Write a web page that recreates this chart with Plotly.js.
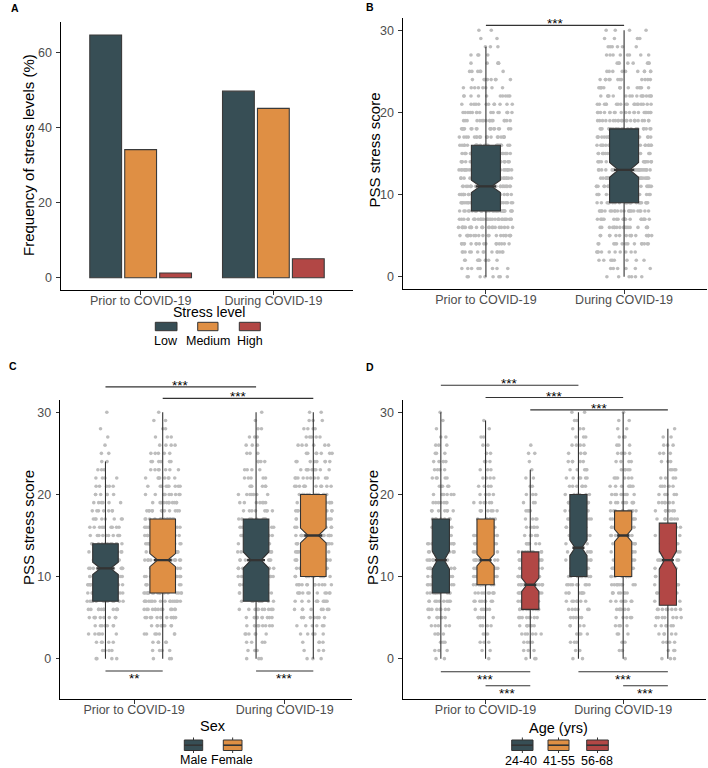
<!DOCTYPE html>
<html><head><meta charset="utf-8">
<script src="https://cdn.plot.ly/plotly-3.0.1.min.js"></script>
<style>html,body{margin:0;padding:0;background:#fff}#chart{width:708px;height:768px}</style>
</head><body><div id="chart"></div>
<script>
// ---------------- DATA ----------------
const periods = ['Prior to COVID-19', 'During COVID-19'];
const scores = [0,1,2,3,4,5,6,7,8,9,10,11,12,13,14,15,16,17,18,19,20,21,22,23,24,25,26,27,28,29,30];

// Panel A: frequency of stress levels (%)
const stressLevels = ['Low', 'Medium', 'High'];
const freqLow = [64.8, 49.8];
const freqMedium = [34.2, 45.2];
const freqHigh = [1.3, 5.1];

// Panel B: PSS score box statistics (Prior, During)
const bQ1 = [8, 9];
const bMedian = [11, 13];
const bQ3 = [16, 18];
const bLower = [0, 0];
const bUpper = [28, 30];
const bNotch = [0.75, 0.9];
// counts of respondents per PSS score 0..30
const bCountsPrior  = [8,8,10,14,16,20,24,30,32,32,34,34,30,30,26,24,22,20,18,16,16,12,10,8,8,6,5,4,3,2,2];
const bCountsDuring = [6,6,8,10,14,16,18,20,22,24,26,26,28,28,28,26,26,24,22,22,20,18,16,14,12,10,8,8,6,4,4];

// Panel C: by sex (Prior, During)
const sexGroups = ['Male', 'Female'];
const cMaleQ1 = [7, 7],   cMaleMedian = [11, 12],   cMaleQ3 = [14, 17],   cMaleLower = [0, 0],   cMaleUpper = [24, 30],   cMaleNotch = [0.75, 1.0];
const cFemaleQ1 = [8, 10], cFemaleMedian = [12, 15], cFemaleQ3 = [17, 20], cFemaleLower = [0, 0], cFemaleUpper = [30, 30], cFemaleNotch = [0.8, 0.9];
const cCountsMalePrior    = [4,4,5,6,8,9,11,13,14,15,15,15,14,13,12,10,9,8,7,6,6,5,4,3,2,2,1,1,1,0,1];
const cCountsMaleDuring   = [3,3,4,6,8,9,10,11,11,11,12,12,12,11,11,10,10,9,8,7,7,6,5,4,4,3,3,3,2,1,1];
const cCountsFemalePrior  = [3,4,5,7,9,11,13,16,17,18,18,18,18,17,16,15,14,13,12,11,10,9,8,7,6,5,4,3,2,2,1];
const cCountsFemaleDuring = [3,3,4,5,6,7,8,10,11,12,13,14,14,15,15,15,15,14,14,13,12,11,10,9,8,7,6,5,4,3,2];

// Panel D: by age (Prior, During)
const ageGroups = ['24-40', '41-55', '56-68'];
const dA1Q1 = [8, 10],  dA1Median = [12, 13.5], dA1Q3 = [17, 20],   dA1Lower = [0, 0], dA1Upper = [30, 30], dA1Notch = [1.1, 0.95];
const dA2Q1 = [9, 10],  dA2Median = [12, 15],   dA2Q3 = [17, 18],   dA2Lower = [0, 0], dA2Upper = [29, 30], dA2Notch = [0.7, 0.75];
const dA3Q1 = [6, 6.5], dA3Median = [9, 12],    dA3Q3 = [13, 16.5], dA3Lower = [0, 0], dA3Upper = [23, 28], dA3Notch = [0.8, 1.1];
const dCountsA1Prior  = [2,3,3,4,5,6,8,9,10,10,11,11,11,10,10,9,9,8,7,7,6,5,5,4,4,3,3,2,1,1,1];
const dCountsA1During = [2,2,3,4,4,5,6,7,8,9,9,9,9,9,9,8,8,8,8,7,7,6,6,5,5,4,4,3,3,2,2];
const dCountsA2Prior  = [1,2,3,3,4,5,6,8,9,10,11,11,11,10,10,9,9,8,7,6,5,4,4,3,3,2,2,2,1,1,0];
const dCountsA2During = [1,2,2,3,4,5,6,7,8,9,10,11,12,12,13,13,12,12,11,9,8,7,6,5,4,4,3,3,2,2,1];
const dCountsA3Prior  = [3,3,4,6,7,8,10,11,12,12,11,10,9,8,7,6,5,4,4,3,3,2,2,1,1,2,1,0,0,0,0];
const dCountsA3During = [3,3,4,5,6,7,8,8,8,8,8,8,8,8,8,7,7,7,6,6,5,5,4,4,3,3,3,2,1,0,0];

// significance brackets: [periodIndex, groupIndex] pairs, level in PSS units
const sigB = [{a: [0, 0], b: [1, 0], level: 30.6, label: '***', side: 'top'}];
const sigC = [
  {a: [0, 0], b: [1, 0], level: 33.1, label: '***', side: 'top'},
  {a: [0, 1], b: [1, 1], level: 31.7, label: '***', side: 'top'},
  {a: [0, 0], b: [0, 1], level: -1.5, label: '**', side: 'bottom'},
  {a: [1, 0], b: [1, 1], level: -1.5, label: '***', side: 'bottom'}
];
const sigD = [
  {a: [0, 0], b: [1, 0], level: 33.3, label: '***', side: 'top'},
  {a: [0, 1], b: [1, 1], level: 31.8, label: '***', side: 'top'},
  {a: [0, 2], b: [1, 2], level: 30.3, label: '***', side: 'top'},
  {a: [0, 0], b: [0, 2], level: -1.6, label: '***', side: 'bottom'},
  {a: [0, 1], b: [0, 2], level: -3.3, label: '***', side: 'bottom'},
  {a: [1, 0], b: [1, 2], level: -1.6, label: '***', side: 'bottom'},
  {a: [1, 1], b: [1, 2], level: -3.3, label: '***', side: 'bottom'}
];

// ---------------- STYLE ----------------
const palette = ['#374E55', '#DF8F44', '#B24745'];
const OUTLINE = '#333333';
const POINT = '#BDBDBD';
const FONT = 'Liberation Sans, Arial, Helvetica, sans-serif';
const W = 708, H = 768;
const PX = x => x / W, PY = y => 1 - y / H;

const ranges = {
  x2: [0.4, 2.6], y2: [-1.5, 31.5],
  x3: [0.51, 2.445], y3: [-4.95, 31.5],
  x4: [0.4, 2.6], y4: [-4.95, 31.5]
};
const frac = (r, v) => (v - r[0]) / (r[1] - r[0]);

// ---------------- TRACE BUILDERS ----------------
function positions(offset) { return periods.map((p, i) => i + 1 + offset); }

function pointsTrace(xa, ya, pos, countsList, width) {
  const x = [], y = [];
  countsList.forEach((counts, k) => counts.forEach((c, s) => {
    for (let i = 0; i < c; i++) { x.push(pos[k]); y.push(scores[s]); }
  }));
  return {type: 'box', xaxis: xa, yaxis: ya, x: x, y: y, width: width,
    boxpoints: 'all', jitter: 1, pointpos: 0,
    fillcolor: 'rgba(0,0,0,0)', line: {color: 'rgba(0,0,0,0)', width: 0},
    marker: {color: POINT, size: 3.6, line: {width: 0}},
    hoverinfo: 'skip', showlegend: false};
}
function boxTrace(xa, ya, pos, q1, med, q3, lo, hi, notch, color, width) {
  return {type: 'box', xaxis: xa, yaxis: ya, x: pos, q1: q1, median: med, q3: q3,
    lowerfence: lo, upperfence: hi, notched: true, notchspan: notch, notchwidth: 0.3,
    width: width, fillcolor: color, line: {color: OUTLINE, width: 1.1}, whiskerwidth: 0,
    boxpoints: false, hoverinfo: 'skip', showlegend: false};
}
function medianTrace(xa, ya, pos, med, width) {
  return {type: 'box', xaxis: xa, yaxis: ya, x: pos, q1: med, median: med, q3: med,
    lowerfence: med, upperfence: med, width: width,
    fillcolor: 'rgba(0,0,0,0)', line: {color: OUTLINE, width: 2.4}, whiskerwidth: 0,
    boxpoints: false, hoverinfo: 'skip', showlegend: false};
}

const traces = [];
// Panel A bars
[freqLow, freqMedium, freqHigh].forEach((vals, i) => {
  traces.push({type: 'bar', xaxis: 'x', yaxis: 'y', x: periods, y: vals, name: stressLevels[i],
    marker: {color: palette[i], line: {color: '#3a3a3a', width: 1.1}},
    hoverinfo: 'skip', showlegend: false});
});

// Panel B
{
  const pos = positions(0);
  traces.push(pointsTrace('x2', 'y2', pos, [bCountsPrior, bCountsDuring], 0.4));
  traces.push(boxTrace('x2', 'y2', pos, bQ1, bMedian, bQ3, bLower, bUpper, bNotch, palette[0], 0.21));
  traces.push(medianTrace('x2', 'y2', pos, bMedian, 0.21 * 0.7));
}
// Panel C
const cOffsets = [-0.19, 0.19];
const cStats = [
  [cMaleQ1, cMaleMedian, cMaleQ3, cMaleLower, cMaleUpper, cMaleNotch, [cCountsMalePrior, cCountsMaleDuring]],
  [cFemaleQ1, cFemaleMedian, cFemaleQ3, cFemaleLower, cFemaleUpper, cFemaleNotch, [cCountsFemalePrior, cCountsFemaleDuring]]
];
cStats.forEach((s, g) => traces.push(pointsTrace('x3', 'y3', positions(cOffsets[g]), s[6], 0.25)));
cStats.forEach((s, g) => {
  const pos = positions(cOffsets[g]);
  traces.push(boxTrace('x3', 'y3', pos, s[0], s[1], s[2], s[3], s[4], s[5], palette[g], 0.17));
  traces.push(medianTrace('x3', 'y3', pos, s[1], 0.17 * 0.7));
});
// Panel D
const dOffsets = [-0.325, 0, 0.325];
const dStats = [
  [dA1Q1, dA1Median, dA1Q3, dA1Lower, dA1Upper, dA1Notch, [dCountsA1Prior, dCountsA1During]],
  [dA2Q1, dA2Median, dA2Q3, dA2Lower, dA2Upper, dA2Notch, [dCountsA2Prior, dCountsA2During]],
  [dA3Q1, dA3Median, dA3Q3, dA3Lower, dA3Upper, dA3Notch, [dCountsA3Prior, dCountsA3During]]
];
dStats.forEach((s, g) => traces.push(pointsTrace('x4', 'y4', positions(dOffsets[g]), s[6], 0.2)));
dStats.forEach((s, g) => {
  const pos = positions(dOffsets[g]);
  traces.push(boxTrace('x4', 'y4', pos, s[0], s[1], s[2], s[3], s[4], s[5], palette[g], 0.125));
  traces.push(medianTrace('x4', 'y4', pos, s[1], 0.125 * 0.7));
});

// ---------------- LAYOUT ----------------
const tickFont = {family: FONT, size: 12.5, color: '#4D4D4D'};
const axBase = {showgrid: false, zeroline: false, showline: true, linecolor: '#000', linewidth: 1.1,
  ticks: 'outside', ticklen: 3.5, tickwidth: 1, tickcolor: '#333', tickfont: tickFont, fixedrange: true};
const xBase = Object.assign({}, axBase, {ticklabelstandoff: -5});
const yBase = Object.assign({}, axBase, {ticklabelstandoff: 2});
const yTicks = {tickmode: 'array', tickvals: [0, 10, 20, 30]};
const xNum = {tickmode: 'array', tickvals: [1, 2], ticktext: periods};

const layout = {
  width: W, height: H, margin: {l: 0, r: 0, t: 0, b: 0},
  paper_bgcolor: '#fff', plot_bgcolor: '#fff', showlegend: false,
  barmode: 'group', bargap: 0.21, bargroupgap: 0.09, boxmode: 'overlay',
  font: {family: FONT},
  xaxis: Object.assign({}, xBase, {domain: [PX(61), PX(353)], anchor: 'y', type: 'category', range: [-0.6, 1.6]}),
  yaxis: Object.assign({}, yBase, {domain: [PY(290), PY(22)], anchor: 'x', range: [-3.25, 68.25], tickmode: 'array', tickvals: [0, 20, 40, 60]}),
  xaxis2: Object.assign({}, xBase, xNum, {domain: [PX(403), PX(707)], anchor: 'y2', range: ranges.x2}),
  yaxis2: Object.assign({}, yBase, yTicks, {domain: [PY(289), PY(18)], anchor: 'x2', range: ranges.y2}),
  xaxis3: Object.assign({}, xBase, xNum, {domain: [PX(60.3), PX(351.7)], anchor: 'y3', range: ranges.x3}),
  yaxis3: Object.assign({}, yBase, yTicks, {domain: [PY(699.3), PY(400)], anchor: 'x3', range: ranges.y3}),
  xaxis4: Object.assign({}, xBase, xNum, {domain: [PX(403), PX(705.7)], anchor: 'y4', range: ranges.x4}),
  yaxis4: Object.assign({}, yBase, yTicks, {domain: [PY(699.3), PY(400)], anchor: 'x4', range: ranges.y4}),
  shapes: [], annotations: []
};

function txt(text, x, y, size, opts) {
  return Object.assign({text: text, xref: 'paper', yref: 'paper', x: PX(x), y: PY(y),
    xanchor: 'center', yanchor: 'middle', showarrow: false,
    font: {family: FONT, size: size, color: '#000'}}, opts || {});
}
// panel letters
[['A', 15, 8], ['B', 370, 7], ['C', 13, 366], ['D', 370, 367]].forEach(l =>
  layout.annotations.push(txt('<b>' + l[0] + '</b>', l[1], l[2], 10.5)));
// y-axis titles
[['Frequency of stress levels (%)', 29, 155], ['PSS stress score', 373.5, 150], ['PSS stress score', 28, 528], ['PSS stress score', 372, 528]]
  .forEach(t => layout.annotations.push(txt(t[0], t[1], t[2], 15, {textangle: -90})));

// significance brackets
function addSig(list, xa, ya, offsets) {
  const rx = ranges[xa], ry = ranges[ya];
  list.forEach(s => {
    const x0 = frac(rx, s.a[0] + 1 + offsets[s.a[1]]);
    const x1 = frac(rx, s.b[0] + 1 + offsets[s.b[1]]);
    const yv = frac(ry, s.level);
    layout.shapes.push({type: 'line', xref: xa + ' domain', yref: ya + ' domain',
      x0: x0, x1: x1, y0: yv, y1: yv, line: {color: '#333', width: 1.1}});
    layout.annotations.push({text: s.label, xref: xa + ' domain', yref: ya + ' domain',
      x: (x0 + x1) / 2, y: yv, xanchor: 'center', yanchor: 'middle', showarrow: false,
      yshift: s.side === 'top' ? 1.5 : -8, font: {family: FONT, size: 13.5, color: '#000'}});
  });
}
addSig(sigB, 'x2', 'y2', [0]);
addSig(sigC, 'x3', 'y3', cOffsets);
addSig(sigD, 'x4', 'y4', dOffsets);

// legends (drawn manually, ggplot style: keys above labels)
function rect(x0, y0, x1, y1, fill, w) {
  return {type: 'rect', xref: 'paper', yref: 'paper', x0: PX(x0), x1: PX(x1), y0: PY(y0), y1: PY(y1),
    fillcolor: fill, line: {color: OUTLINE, width: w}};
}
function seg(x0, y0, x1, y1, w) {
  return {type: 'line', xref: 'paper', yref: 'paper', x0: PX(x0), x1: PX(x1), y0: PY(y0), y1: PY(y1),
    line: {color: OUTLINE, width: w}};
}
// A legend
layout.annotations.push(txt('Stress level', 209, 312.3, 14));
[[155.3, 177], [197.7, 218], [239.3, 260.3]].forEach((k, i) => {
  layout.shapes.push(rect(k[0], 322.3, k[1], 330.7, palette[i], 1));
  layout.annotations.push(txt(stressLevels[i], (k[0] + k[1]) / 2, 340.5, 12.5));
});
// box-glyph legend keys
function boxKey(x0, x1, color) {
  const xc = (x0 + x1) / 2;
  layout.shapes.push(seg(xc, 737.5, xc, 753, 1));
  layout.shapes.push(rect(x0, 740, x1, 750.5, color, 1));
  layout.shapes.push(seg(x0, 745.2, x1, 745.2, 1.6));
}
layout.annotations.push(txt('Sex', 212.5, 726, 14.5));
[[184.3, 202.7, 193.7], [223.3, 242, 231.5]].forEach((k, i) => {
  boxKey(k[0], k[1], palette[i]);
  layout.annotations.push(txt(sexGroups[i], k[2], 759.5, 12.5));
});
layout.annotations.push(txt('Age (yrs)', 558, 727.7, 14.5));
[[511.7, 533, 521], [548, 569, 559], [586.7, 608.3, 597.3]].forEach((k, i) => {
  boxKey(k[0], k[1], palette[i]);
  layout.annotations.push(txt(ageGroups[i], k[2], 760.5, 12.5));
});

Plotly.newPlot('chart', traces, layout, {staticPlot: true, displayModeBar: false});
</script>
</body></html>
